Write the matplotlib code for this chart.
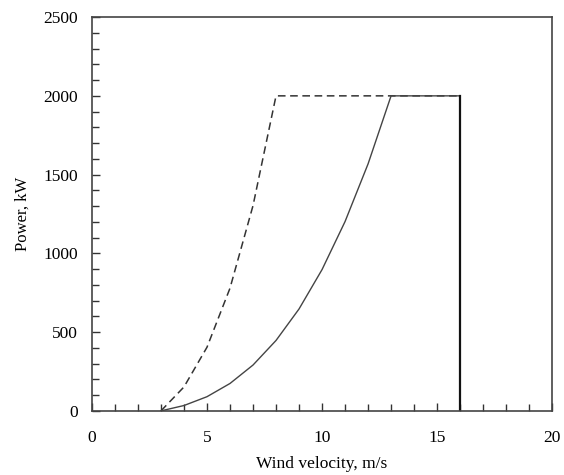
import matplotlib.pyplot as plt
from matplotlib.ticker import MultipleLocator

plt.rcParams['font.family'] = ['Liberation Serif', 'DejaVu Serif']

# solid curve (turbine power)
v_solid = [3, 4, 5, 6, 7, 8, 9, 10, 11, 12, 13, 16, 16]
p_solid = [0, 34, 90, 174, 291, 447, 647, 897, 1202, 1568, 2000, 2000, 0]

# dashed curve
v_dash = [3, 4, 5, 6, 7, 8, 16]
p_dash = [0, 152, 404, 779, 1303, 2000, 2000]

fig = plt.figure(figsize=(5.64, 4.75), dpi=100)
ax = fig.add_axes([0.163, 0.135, 0.816, 0.829])

ax.plot(v_dash, p_dash, color='#333333', linestyle=(0, (5, 3)), linewidth=1.1)
ax.plot(v_solid[:-1], p_solid[:-1], color='#444444', linewidth=1.0)
ax.plot(v_solid[-2:], p_solid[-2:], color='#111111', linewidth=1.6)

ax.set_xlim(0, 20)
ax.set_ylim(0, 2500)
ax.xaxis.set_major_locator(MultipleLocator(5))
ax.xaxis.set_minor_locator(MultipleLocator(1))
ax.yaxis.set_major_locator(MultipleLocator(500))
ax.yaxis.set_minor_locator(MultipleLocator(100))

ax.tick_params(which='both', direction='in', top=False, right=False, color='#333333')
ax.tick_params(which='major', length=6, width=1, labelsize=12.5)
ax.tick_params(axis='x', which='major', pad=14)
ax.tick_params(axis='y', which='major', pad=10)
ax.tick_params(which='minor', length=5, width=1)
for s in ax.spines.values():
    s.set_color('#444444')
    s.set_linewidth(1.2)

ax.set_xlabel('Wind velocity, m/s', fontsize=12.5, labelpad=7)
ax.set_ylabel('Power, kW', fontsize=12, labelpad=9)

fig.savefig('out.png', dpi=100)
